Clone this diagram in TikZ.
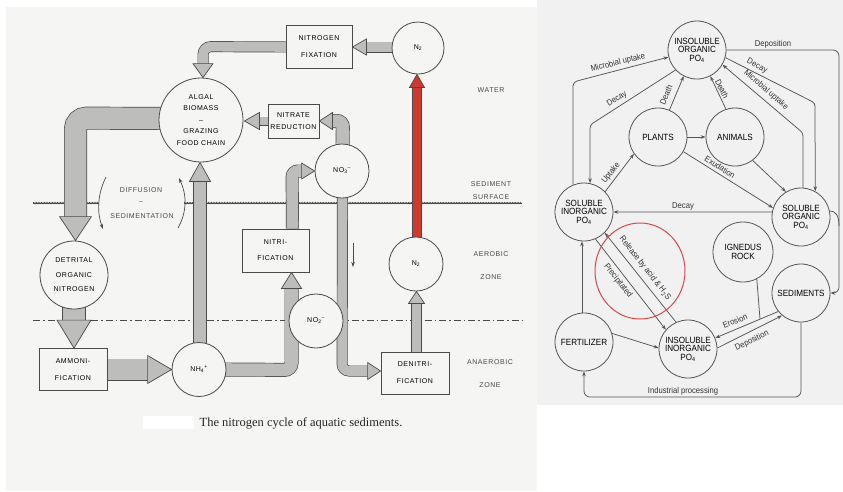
\documentclass[tikz,border=0pt]{standalone}
\usepackage{fontspec}
\setmainfont{Liberation Serif}
\newfontfamily\lfont[LetterSpace=8]{Liberation Sans}
\newfontfamily\rfont[FakeStretch=0.9]{Liberation Sans}
\usetikzlibrary{calc,arrows.meta,decorations.pathmorphing}
\definecolor{leftbg}{HTML}{F5F5F3}
\definecolor{rightbg}{HTML}{F1F1F1}
\definecolor{ink}{HTML}{4A4A4A}
\definecolor{fatc}{HTML}{BDBDBB}
\definecolor{redc}{HTML}{CF3A30}
\definecolor{rink}{HTML}{555555}
\definecolor{ringred}{HTML}{D9474B}
\pgfdeclarelayer{bg}\pgfdeclarelayer{lines}\pgfsetlayers{bg,lines,main}
\newcommand{\fatshaft}[3][fatc]{\draw[draw=ink, line width=0.7pt, double=#1, double distance=#2] #3;}
\newcommand{\fathead}[5][fatc]{\filldraw[fill=#1, draw=ink, line width=0.7pt, line join=miter, shift={#2}, rotate=#3] (0,0) -- (-#5,#4) -- (-#5,-#4) -- cycle;}
\begin{document}
\begin{tikzpicture}[x=1pt,y=-1pt,
  lc/.style={circle, draw=ink, line width=0.8pt, fill=leftbg, inner sep=0pt, minimum size=#1, align=center, font=\lfont\fontsize{7}{11.5}\selectfont},
  lc/.default=54pt,
  lb/.style={rectangle, draw=ink, line width=0.8pt, fill=leftbg, inner sep=0pt, align=center, font=\lfont\fontsize{7}{17}\selectfont},
  ltxt/.style={font=\lfont\fontsize{7}{9}\selectfont, text=ink, inner sep=0pt},
  rc/.style={circle, draw=rink, line width=0.8pt, inner sep=0pt, minimum size=58pt, align=center, font=\rfont\fontsize{9}{8.5}\selectfont},
  rl/.style={font=\rfont\fontsize{8.5}{9}\selectfont, inner sep=0pt, text=black!80},
  re/.style={draw=rink, line width=0.75pt},
  ra/.style={re, -{Stealth[length=5pt,width=3.6pt]}},
  surf/.style={draw=ink, line width=0.4pt, decorate, decoration={zigzag, amplitude=0.8pt, segment length=1.6pt}},
]
\useasboundingbox (0,0) rectangle (843,491);
\begin{pgfonlayer}{bg}
\fill[white] (0,0) rectangle (843,491);
\fill[leftbg] (6,7) rectangle (537,491);
\fill[rightbg] (537,0) rectangle (843,405);
\fill[white] (143,416) rectangle (194,429);
\end{pgfonlayer}

% ---------------- left diagram: nodes
\node[lb, minimum width=66pt, minimum height=43pt] (nfix) at (319,47) {NITROGEN\\FIXATION};
\node[lc=52pt] (n2top) at (418,48) {N\textsubscript{2}};
\node[lc=84pt] (algal) at (201,120) {ALGAL\\BIOMASS\\–\\GRAZING\\FOOD CHAIN};
\node[lb, minimum width=51pt, minimum height=34pt, font=\lfont\fontsize{7}{12}\selectfont] (nred) at (293.5,121) {NITRATE\\REDUCTION};
\node[lc=68pt, font=\lfont\fontsize{7}{14.5}\selectfont] (detrital) at (74,275) {DETRITAL\\ORGANIC\\NITROGEN};
\node[lb, minimum width=68pt, minimum height=42pt] (ammon) at (73,369.5) {AMMONI-\\FICATION};
\node[lc] (nh4) at (199,369.5) {NH\textsubscript{4}\textsuperscript{+}};
\node[lb, minimum width=67pt, minimum height=43pt, font=\lfont\fontsize{7}{16}\selectfont] (nitrif) at (275.5,250.5) {NITRI-\\FICATION};
\node[lc] (no3) at (342,171) {NO\textsubscript{3}\textsuperscript{–}};
\node[lc] (n2bot) at (416,264) {N\textsubscript{2}};
\node[lb, minimum width=68pt, minimum height=42pt] (denit) at (415,373) {DENITRI-\\FICATION};

\node[ltxt] (water) at (491,90) {WATER};
\node[ltxt] (sed1) at (491,184) {SEDIMENT};
\node[ltxt] (sed2) at (491,197) {SURFACE};
\node[ltxt] (aer1) at (491,254) {AEROBIC};
\node[ltxt] (aer2) at (491,277) {ZONE};
\node[ltxt] (ana1) at (490,362) {ANAEROBIC};
\node[ltxt] (ana2) at (490,385) {ZONE};
\node[ltxt] (diff1) at (141,190) {DIFFUSION};
\node[ltxt] (diff2) at (141,202) {–};
\node[ltxt] (diff3) at (142,216) {SEDIMENTATION};
\node[font=\fontsize{12.5}{14}\selectfont, inner sep=0pt, text=black!85] (cap) at (301,423) {The nitrogen cycle of aquatic sediments.};

\coordinate (s1) at (33,203); \coordinate (s2) at (99,203);
\coordinate (s3) at (184,203); \coordinate (s4) at (522,203);
\coordinate (d1) at (33,320); \coordinate (d2) at (522,320);
\coordinate (ta) at (353,243); \coordinate (tb) at (353,267);
\coordinate (dl1) at (106,177); \coordinate (dl2) at (103,229);
\coordinate (dr1) at (178,228); \coordinate (dr2) at (179,178);

\begin{pgfonlayer}{lines}
\draw[ink, line width=0.7pt] (s1) -- (s2) (s3) -- (s4);
\draw[surf] (s1) -- (s2); \draw[surf] (s3) -- (s4);
\draw[ink, line width=0.7pt, dash pattern=on 7pt off 3pt on 1.5pt off 3pt] (d1) -- (d2);
% fat arrows
\fatshaft{9.6pt}{($(n2top.west)+(2,-1)$) -- ($(nfix.east)+(13,0)$)}
\fathead{(nfix.east)}{180}{8}{14}
\fatshaft{9.6pt}{($(nfix.west)+(1,0)$) [rounded corners=8pt] -- ($(algal.north)+(2,-31)$) -- ($(algal.north)+(2,-13)$)}
\fathead{($(algal.north)+(2,0)$)}{-90}{10}{14}
\fatshaft{7.6pt}{(nred.west) -- ($(algal.east)+(15,1)$)}
\fathead{($(algal.east)+(1,1)$)}{180}{8.5}{15}
\fatshaft{21.6pt}{($(algal.center)+(-30,-1.5)$) [rounded corners=11pt] -- ($(detrital.north)+(1.5,-122.5)$) -- ($(detrital.north)+(1.5,-23)$)}
\fathead{($(detrital.north)+(1.5,0)$)}{-90}{16}{24}
\fatshaft{22.6pt}{($(detrital.south)+(0,-2)$) -- ($(ammon.north)+(1,-27)$)}
\fathead{($(ammon.north)+(1,0)$)}{-90}{17}{28}
\fatshaft{20.6pt}{(ammon.east) -- ($(nh4.west)+(-23,0)$)}
\fathead{(nh4.west)}{0}{14}{24}
\fatshaft{12.6pt}{($(nh4.north)+(1,2)$) -- ($(algal.south)+(-1,18)$)}
\fathead{($(algal.south)+(-1,0)$)}{90}{10.5}{19}
\fatshaft{12.6pt}{($(nh4.east)+(-2,0)$) [rounded corners=7pt] -- ($(nitrif.south)+(16,97.5)$) -- ($(nitrif.south)+(16,15)$)}
\fathead{($(nitrif.south)+(16,0)$)}{90}{10}{16}
\fatshaft{11.6pt}{($(nitrif.north)+(17,0)$) [rounded corners=6pt] -- ($(no3.west)+(-22.5,0)$) -- ($(no3.west)+(-12,0)$)}
\fathead{(no3.west)}{0}{8}{13}
\fatshaft{12.6pt}{($(no3.north)+(0.5,2)$) [rounded corners=6pt] -- ($(nred.east)+(23.5,0)$) -- ($(nred.east)+(12,0)$)}
\fathead{(nred.east)}{180}{8.5}{13}
\fatshaft{9.6pt}{($(no3.south)+(0.5,-2)$) [rounded corners=7pt] -- ($(denit.west)+(-38.5,-2)$) -- ($(denit.west)+(-12,-2)$)}
\fathead{($(denit.west)+(0,-2)$)}{0}{8.5}{13}
\fatshaft{9.6pt}{($(denit.north)+(1.5,0)$) -- ($(n2bot.south)+(0.5,10)$)}
\fathead{($(n2bot.south)+(0.5,0)$)}{90}{8}{12}
\fatshaft[redc]{8.6pt}{($(n2bot.north)+(1,2)$) -- ($(n2top.south)+(-1,12)$)}
\fathead[redc]{($(n2top.south)+(-1,0)$)}{90}{7.5}{13}
\end{pgfonlayer}
\node[lc] (no2) at (316,321) {NO\textsubscript{2}\textsuperscript{–}};
\draw[ink, line width=0.7pt, -{Stealth[length=5pt,width=3.5pt]}] (ta) -- (tb);
\draw[ink, line width=0.7pt, -{Stealth[length=5pt,width=3.5pt]}] (dl1) .. controls (97,195) and (97,213) .. (dl2);
\draw[ink, line width=0.7pt, -{Stealth[length=5pt,width=3.5pt]}] (dr1) .. controls (187,212) and (187,195) .. (dr2);

% ---------------- right diagram
\node[rc] (iop) at (697,50) {INSOLUBLE\\ORGANIC\\PO\textsubscript{4}};
\node[rc] (plants) at (658,137) {PLANTS};
\node[rc] (animals) at (735,137) {ANIMALS};
\node[rc] (sip) at (584,212) {SOLUBLE\\INORGANIC\\PO\textsubscript{4}};
\node[rc] (sop) at (801,217) {SOLUBLE\\ORGANIC\\PO\textsubscript{4}};
\node[rc, minimum size=60pt] (igneous) at (743,252) {IGNEDUS\\ROCK};
\node[rc] (sed) at (801,293) {SEDIMENTS};
\node[rc] (fert) at (584,342) {FERTILIZER};
\node[rc] (iip) at (688,349) {INSOLUBLE\\INORGANIC\\PO\textsubscript{4}};

\coordinate (b1) at (573,82);
\coordinate (b2) at (590,125);
\coordinate (b3) at (815,103);
\coordinate (b4) at (803,133);
\coordinate (b5) at (839,50);
\coordinate (b6) at (839,293);
\coordinate (j1) at (839,226);
\coordinate (j2) at (760,319);
\coordinate (b7) at (801,397);
\coordinate (b8) at (584,397);

\draw[ra, rounded corners=4pt] (sip.112) -- (b1) -- (iop.194);
\draw[ra, rounded corners=3pt] (iop.223) -- (b2) -- (sip.78);
\draw[ra] (plants.67) -- (iop.243);
\draw[ra] (animals.108) -- (iop.297);
\draw[ra] (plants.east) -- (animals.west);
\draw[ra] (sip.44) -- (plants.215);
\draw[ra] (plants.330) -- (sop.162);
\draw[ra] (animals.307) -- (sop.121);
\draw[ra] (sop.170) -- (sip.east);
\draw[ra, rounded corners=3pt] (iop.345) -- (b3) -- (sop.61);
\draw[ra, rounded corners=3pt] (sop.86) -- (b4) -- (iop.330);
\draw[ra, rounded corners=6pt] (iop.east) -- (b5) -- (b6) -- (sed.east);
\draw[re] (sop.12) .. controls (836,211) and (839,216) .. (j1);
\draw[ra] (iip.114) -- (sip.315);
\draw[ra] (sip.293) -- (iip.139);
\draw[ra] (fert.94) -- (sip.266);
\draw[ra] (fert.17) -- (iip.178);
\draw[ra] (sed.219) -- (iip.22);
\draw[re] (igneous.297) -- (j2);
\draw[ra] (iip.2) -- (sed.230);
\draw[ra, rounded corners=6pt] (sed.south) -- (b7) -- (b8) -- (fert.south);

\node[rl, rotate=14] (l1) at (618,63) {Microbial uptake};
\node[rl, rotate=32] (l2) at (617,99) {Decay};
\node[rl, rotate=67] (l3) at (666,95) {Death};
\node[rl, rotate=-64] (l4) at (722,89) {Death};
\node[rl, rotate=52] (l5) at (611,173) {Uptake};
\node[rl, rotate=-32] (l6) at (720,167) {Exudation};
\node[rl] (l7) at (683,206) {Decay};
\node[rl, rotate=-27] (l8) at (757,66) {Decay};
\node[rl, rotate=-41] (l9) at (766,90) {Microbial uptake};
\node[rl] (l10) at (773,44) {Deposition};
\node[rl, rotate=-52] (l11) at (645,268) {Release by acid \& H\textsubscript{2}S};
\node[rl, rotate=-52] (l12) at (618,281) {Precipitated};
\node[rl, rotate=23] (l13) at (735,321) {Erosion};
\node[rl, rotate=26] (l14) at (752,341) {Deposition};
\node[rl] (l15) at (683,391) {Industrial processing};

\draw[ringred, line width=1pt] (640,271) ellipse [x radius=45, y radius=48];
\end{tikzpicture}
\end{document}
